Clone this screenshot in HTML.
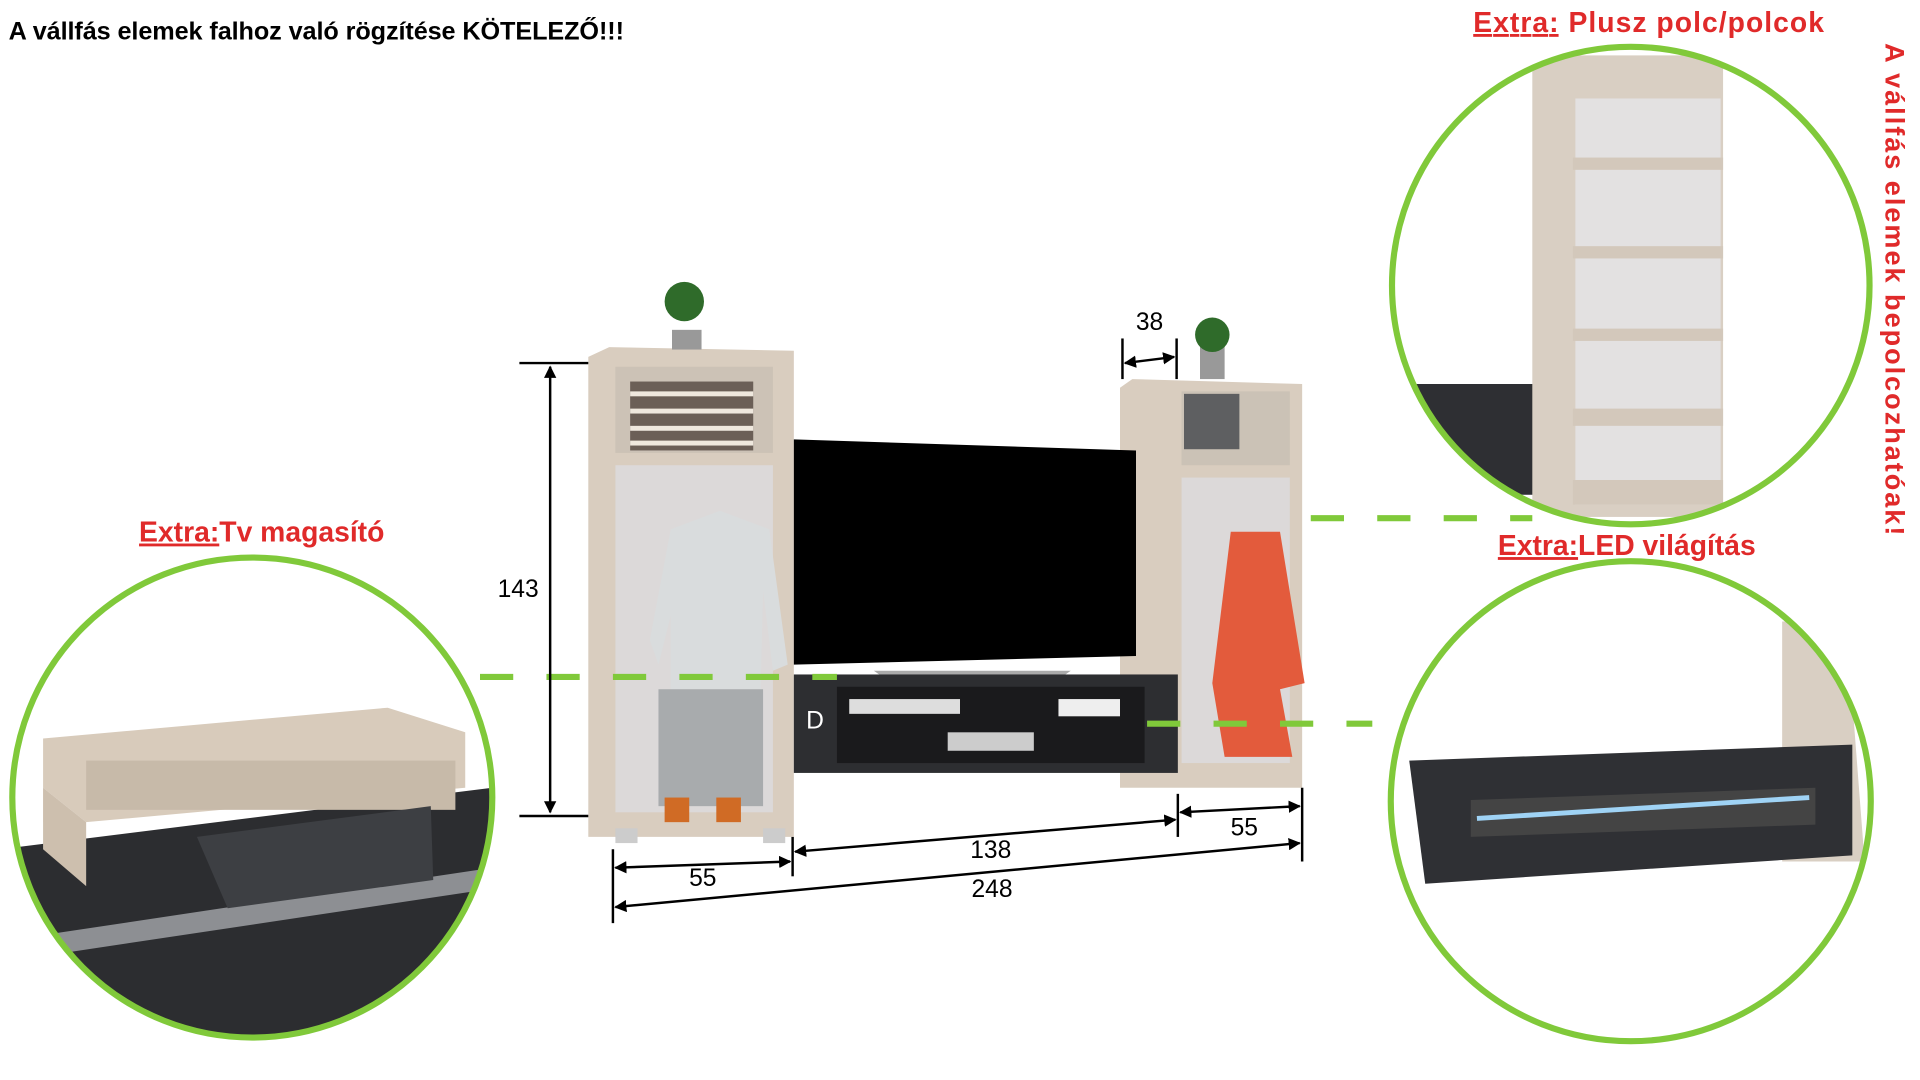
<!DOCTYPE html>
<html><head><meta charset="utf-8"><style>
html,body{margin:0;padding:0;background:#fff;width:1920px;height:1080px;overflow:hidden}
svg{display:block}
text{font-family:"Liberation Sans",sans-serif}
</style></head><body>
<svg width="1920" height="1080" viewBox="0 0 1560 877.5" xmlns="http://www.w3.org/2000/svg">
<defs>
<marker id="a" markerWidth="10" markerHeight="10" refX="9" refY="5" orient="auto-start-reverse" markerUnits="userSpaceOnUse"><path d="M0,0 L10,5 L0,10 z" fill="#000"/></marker>
<clipPath id="c1"><circle cx="205" cy="648" r="195"/></clipPath>
<clipPath id="c2"><circle cx="1325" cy="232" r="194"/></clipPath>
<clipPath id="c3"><circle cx="1325" cy="651" r="195"/></clipPath>
</defs>
<text x="7" y="32" font-size="20.5" font-weight="bold" fill="#000" textLength="500">A vállfás elemek falhoz való rögzítése KÖTELEZŐ!!!</text>

<g clip-path="url(#c2)">
<rect x="1150" y="312" width="128" height="90" fill="#2e2f33"/>
<rect x="1245" y="45" width="155" height="375" fill="#d9cfc3"/>
<rect x="1280" y="80" width="118" height="330" fill="#e3e1e1"/>
<rect x="1278" y="128" width="122" height="10" fill="#d3c8bb"/>
<rect x="1278" y="200" width="122" height="10" fill="#d3c8bb"/>
<rect x="1278" y="267" width="122" height="10" fill="#d3c8bb"/>
<rect x="1278" y="332" width="122" height="14" fill="#d3c8bb"/>
<rect x="1278" y="390" width="122" height="20" fill="#d3c8bb"/>
</g>
<circle cx="1325" cy="232" r="194" fill="none" stroke="#80c93a" stroke-width="5"/>
<text x="1197" y="26" font-size="23" font-weight="bold" fill="#e02a2a" textLength="285"><tspan text-decoration="underline">Extra:</tspan> Plusz polc/polcok</text>
<text transform="translate(1532,35) rotate(90)" font-size="22" font-weight="bold" fill="#e02a2a" textLength="400">A vállfás elemek bepolcozhatóak!</text>

<g clip-path="url(#c1)">
<polygon points="0,690 400,640 400,850 0,850" fill="#2c2d30"/>
<polygon points="0,765 400,705 400,722 0,782" fill="#8d8f93"/>
<polygon points="35,600 315,575 378,595 378,640 70,668 35,640" fill="#d8cbbb"/>
<rect x="70" y="618" width="300" height="40" fill="#c7baa9"/>
<polygon points="160,680 350,655 352,715 185,738" fill="#3d3f43"/>
<polygon points="35,640 70,668 70,720 35,690" fill="#cdbfae"/>
</g>
<circle cx="205" cy="648" r="195" fill="none" stroke="#80c93a" stroke-width="5"/>
<text x="113" y="440" font-size="23" font-weight="bold" fill="#e02a2a"><tspan text-decoration="underline">Extra:</tspan>Tv magasító</text>

<g clip-path="url(#c3)">
<polygon points="1448,505 1500,505 1515,700 1448,700" fill="#d9cfc3"/>
<polygon points="1145,618 1505,605 1505,695 1158,718" fill="#2f3034"/>
<polygon points="1195,650 1475,640 1475,670 1195,680" fill="#444"/>
<line x1="1200" y1="665" x2="1470" y2="648" stroke="#9fd3f5" stroke-width="4"/>
</g>
<circle cx="1325" cy="651" r="195" fill="none" stroke="#80c93a" stroke-width="5"/>
<text x="1217" y="451" font-size="23" font-weight="bold" fill="#e02a2a"><tspan text-decoration="underline">Extra:</tspan>LED világítás</text>

<!-- left cabinet -->
<polygon points="478,290 495,282 645,285 645,680 478,680" fill="#d9cdbf"/>
<rect x="500" y="298" width="128" height="70" fill="#ccc2b6"/>
<rect x="512" y="310" width="100" height="56" fill="#6b5f57"/>
<g fill="#efe8de"><rect x="512" y="318" width="100" height="4"/><rect x="512" y="332" width="100" height="4"/><rect x="512" y="346" width="100" height="4"/><rect x="512" y="358" width="100" height="4"/></g>
<rect x="500" y="378" width="128" height="282" fill="#dcd9d9"/>
<path d="M545,430 L585,415 L625,430 L640,540 L628,545 L620,480 L618,560 L545,580 L545,500 L535,540 L528,520 Z" fill="#d9dcdd"/>
<rect x="535" y="560" width="85" height="95" fill="#a8abad"/>
<rect x="540" y="648" width="20" height="20" fill="#d06b25"/><rect x="582" y="648" width="20" height="20" fill="#d06b25"/>
<rect x="546" y="268" width="24" height="16" fill="#999"/>
<circle cx="556" cy="245" r="16" fill="#2f6b2a"/>
<rect x="500" y="673" width="18" height="12" fill="#ccc"/><rect x="620" y="673" width="18" height="12" fill="#ccc"/>

<!-- right cabinet -->
<polygon points="910,315 920,308 1058,312 1058,640 910,640" fill="#d9cdbf"/>
<rect x="960" y="318" width="88" height="60" fill="#cbc2b6"/>
<rect x="962" y="320" width="45" height="45" fill="#5e5f61"/>
<rect x="960" y="388" width="88" height="232" fill="#dcd9d9"/>
<path d="M1000,432 L1040,432 L1060,555 L1040,560 L1050,615 L995,615 L985,555 Z" fill="#e35b3c"/>
<rect x="975" y="280" width="20" height="28" fill="#999"/>
<circle cx="985" cy="272" r="14" fill="#2f6b2a"/>

<!-- TV -->
<polygon points="645,357 923,366 923,533 645,540" fill="#000"/>
<polygon points="710,545 870,545 860,552 720,552" fill="#aaa"/>
<!-- TV stand -->
<rect x="645" y="548" width="312" height="80" fill="#2d2e31"/>
<rect x="680" y="558" width="250" height="62" fill="#1a1a1c"/>
<rect x="690" y="568" width="90" height="12" fill="#ddd"/>
<rect x="770" y="595" width="70" height="15" fill="#ccc"/>
<rect x="860" y="568" width="50" height="14" fill="#eee"/>
<text x="655" y="592" font-family="Liberation Serif" font-size="20" fill="#fff">D</text>

<g stroke="#80c93a" stroke-width="5" stroke-dasharray="27,27">
<line x1="390" y1="550" x2="680" y2="550"/>
<line x1="932" y1="588" x2="1115" y2="588"/>
<line x1="1065" y1="421" x2="1245" y2="421"/>
</g>

<g stroke="#000" stroke-width="2" fill="none">
<line x1="422" y1="295" x2="478" y2="295"/>
<line x1="422" y1="663" x2="478" y2="663"/>
<line x1="447" y1="298" x2="447" y2="660" marker-start="url(#a)" marker-end="url(#a)"/>
<line x1="912" y1="275" x2="912" y2="308"/><line x1="956" y1="275" x2="956" y2="308"/>
<line x1="914" y1="295" x2="954" y2="290" marker-start="url(#a)" marker-end="url(#a)"/>
<line x1="498" y1="690" x2="498" y2="750"/>
<line x1="644" y1="680" x2="644" y2="712"/>
<line x1="957" y1="645" x2="957" y2="680"/>
<line x1="1058" y1="640" x2="1058" y2="700"/>
<line x1="500" y1="705" x2="642" y2="700" marker-start="url(#a)" marker-end="url(#a)"/>
<line x1="646" y1="692" x2="955" y2="666" marker-start="url(#a)" marker-end="url(#a)"/>
<line x1="959" y1="660" x2="1056" y2="655" marker-start="url(#a)" marker-end="url(#a)"/>
<line x1="500" y1="737" x2="1056" y2="685" marker-start="url(#a)" marker-end="url(#a)"/>
</g>
<g font-size="20" fill="#000" text-anchor="middle">
<text x="421" y="485">143</text>
<text x="934" y="268">38</text>
<text x="571" y="720">55</text>
<text x="805" y="697">138</text>
<text x="1011" y="679">55</text>
<text x="806" y="729">248</text>
</g>
</svg>
</body></html>
